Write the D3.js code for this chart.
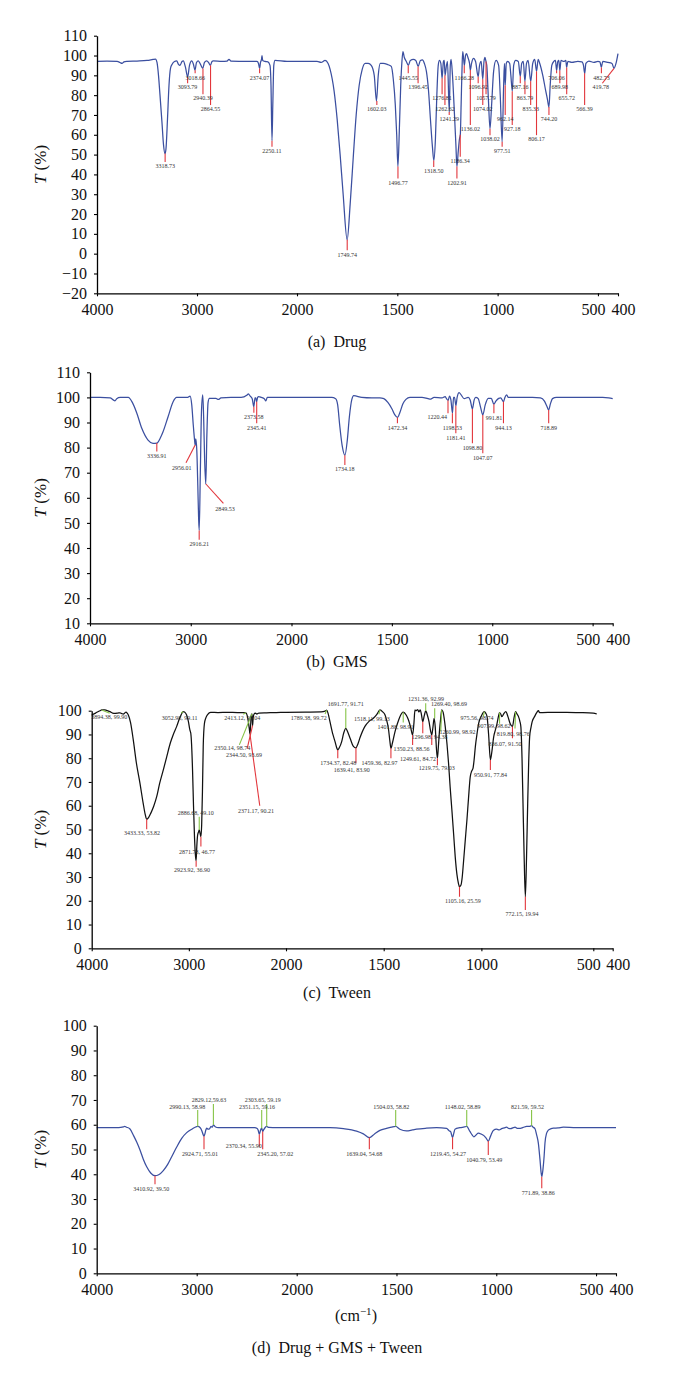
<!DOCTYPE html>
<html><head><meta charset="utf-8">
<script src="https://cdn.jsdelivr.net/npm/d3@7"></script>
<style>body{margin:0;background:#fff}svg{display:block}</style>
</head><body><div id="chart"></div>
<script>
// ---------------- DATA ----------------
const xTickValues = [4000,3000,2000,1500,1000,500,400];
const yTicksDrug = [-20,-10,0,10,20,30,40,50,60,70,80,90,100,110];
const yTicksGMS = [10,20,30,40,50,60,70,80,90,100,110];
const yTicksTween = [0,10,20,30,40,50,60,70,80,90,100];
const yTicksMix = [0,10,20,30,40,50,60,70,80,90,100];
const captions = ["(a)  Drug","(b)  GMS","(c)  Tween","(d)  Drug + GMS + Tween"];
const yAxisTitle = ["T"," (%)"];
const unitTitle = ["(cm","\u22121",")"];

// spectrum (a) Drug : [wavenumber, T%]
const drugSpectrum = [[4000,97],[3900,97.2],[3800,97],[3770,96.5],[3750,96],[3730,96.8],[3700,97],[3600,97.2],[3500,97.5],[3440,98],[3415,98.2],[3400,96.5],[3385,90],[3370,80],[3350,66],[3335,55],[3320,50.5],[3310,53],[3295,68],[3280,85],[3265,93.5],[3250,95.5],[3225,97],[3203,97.3],[3185,95.5],[3170,95],[3150,97],[3137,97.3],[3115,94],[3094,89.2],[3075,95],[3053,97.3],[3035,95.5],[3020,92.6],[3005,96.5],[2987,97.3],[2965,95.5],[2943,93.5],[2925,96.5],[2903,97.3],[2885,96.5],[2866,95],[2850,97],[2837,97.3],[2750,97],[2700,97.2],[2680,98],[2660,97.2],[2500,97],[2400,97],[2385,96],[2374,93.5],[2365,96.5],[2355,98],[2350,100],[2343,97.5],[2320,97],[2290,96.8],[2270,95],[2260,85],[2250,57],[2242,75],[2232,95],[2220,97.5],[2100,97],[2000,97],[1900,97],[1880,96.5],[1860,97.5],[1845,96],[1835,93],[1815,82],[1800,68],[1785,50],[1770,30],[1750,7],[1735,25],[1720,48],[1705,70],[1690,85],[1675,93],[1660,96],[1645,96],[1630,95],[1615,90],[1604,77],[1595,90],[1585,96],[1570,96],[1550,95.5],[1530,94.5],[1520,88],[1510,75],[1503,60],[1497,44],[1490,62],[1483,85],[1477,97],[1472,102],[1465,99],[1455,97],[1445,95],[1435,97.5],[1420,98],[1408,97.5],[1396,94.5],[1385,97.5],[1375,97.8],[1365,96],[1355,92],[1345,83],[1335,68],[1325,54],[1318,47],[1310,58],[1303,80],[1296,95],[1290,97.5],[1283,96],[1277,88.5],[1270,97],[1266,97.5],[1262,90],[1255,95],[1250,97],[1241,71.5],[1236,95],[1232,98],[1225,90],[1215,70],[1208,55],[1203,44],[1196,52],[1190,58],[1186,60],[1182,75],[1177,95],[1174,102],[1170,99],[1166,95],[1160,100],[1155,101],[1148,99],[1140,96],[1136,92.7],[1130,96],[1120,98.5],[1110,97],[1097,89.3],[1090,95],[1082,97],[1074,88],[1068,97],[1063,99],[1058,97],[1054,95],[1046,78],[1038,63],[1030,75],[1020,92],[1008,97.5],[995,95],[987,80],[977.5,56.5],[970,85],[966,96],[962,85],[957,96],[950,97],[940,96],[934,90],[927,82],[920,95],[910,97.5],[897,97],[887,89.5],[880,96],[872,97],[864,87],[856,96],[848,97.5],[835,87],[825,96],[815,98],[806,92],[798,98],[790,96],[775,90],[760,82],[752,78],[744,74],[738,85],[730,95],[720,97],[712,97.5],[706,92.5],[700,97],[695,97.5],[690,92.5],[684,97.5],[670,97],[660,97.5],[656,94],[650,97],[630,96.5],[600,97],[580,96.8],[572,95],[566,91],[560,96],[545,97.2],[520,96.5],[500,97],[490,96.8],[483,94],[476,97],[450,96.5],[430,96],[420,93.5],[410,96],[400,101]];
// peak marks (a): [wavenumber, T at peak, T at end of mark, (end wn), (text wn), (text T)]
const drugPeaks = [[3318.73,50.5,46.3],[3093.79,89.2,86],[3018.66,92.6,91],[2940.39,93.5,80.5],[2864.55,95,75],[2374.07,93.5,91],[2250.11,57,53.9],[1749.74,7,1.7],[1602.03,77,75],[1496.77,44,37.9],[1445.55,95,91],[1396.45,94.5,86],[1318.50,47,43.8],[1276.81,88.5,80.5],[1262.62,90,75],[1241.29,71.5,70],[1202.91,44,37.9],[1186.34,60,48.9],[1166.28,95,91],[1136.02,92.7,64.9],[1096.92,89.3,86],[1074.02,88,75],[1057.79,97,80.5],[1038.02,63,59.8],[977.51,56.5,53.9],[962.14,85,70],[927.18,82,64.9],[887.16,89.5,86],[863.79,87,80.5],[835.33,87,75],[806.17,92,59.8],[744.20,74,70],[706.06,92.5,91],[689.98,92.5,86],[655.72,94,80.5],[566.39,91,75],[482.73,94,91],[419.78,93.5,86,478,486,84.2]];

// spectrum (b) GMS
const gmsSpectrum = [[4000,100],[3900,100],[3800,99.8],[3770,99],[3752,98.6],[3735,99.5],[3700,100],[3620,100],[3580,98],[3536,93.8],[3486,87.7],[3424,83],[3375,81.7],[3337,81.8],[3300,84],[3275,86.3],[3225,92.3],[3175,98.3],[3140,100],[3100,100],[3030,100],[3007,100.5],[2990,97],[2975,89],[2962,83],[2956,81],[2950,83.5],[2940,79],[2930,65],[2922,52],[2916,47],[2905,70],[2893,95],[2881,101],[2872,92],[2862,75],[2851,65.5],[2840,85],[2828,98],[2815,99.6],[2750,99.6],[2726,99.2],[2700,99.8],[2600,100],[2500,100],[2440,101],[2428,101.4],[2410,100.5],[2390,99.5],[2374,96.3],[2362,99.8],[2355,99.8],[2346,98.3],[2336,100],[2326,100.3],[2300,100],[2270,99.5],[2255,98.6],[2240,100],[2100,100],[2000,100],[1900,100],[1800,100],[1780,99.5],[1770,97],[1760,89],[1748,81],[1734,77],[1722,83],[1712,92],[1700,99],[1690,100.7],[1650,100],[1600,99.8],[1560,99.8],[1540,99.5],[1520,98],[1500,95.5],[1485,93],[1472,92],[1460,94],[1445,97.5],[1430,99.2],[1410,100],[1350,100],[1320,99.5],[1307,99.3],[1290,100],[1250,99.8],[1235,100.3],[1228,99.5],[1220,98.8],[1213,100.5],[1206,99],[1198,93.7],[1193,100],[1188,100],[1181,96.7],[1175,100],[1165,101.9],[1155,101],[1140,99.5],[1120,100],[1110,99],[1099,95.4],[1090,99],[1082,100],[1070,99.5],[1058,96],[1047,93],[1035,97],[1020,99.6],[1005,99.6],[992,97.3],[982,98.5],[968,99.6],[958,99.8],[944,98.3],[937,100],[928,101],[920,100],[850,100],[800,100],[760,99.8],[740,98.5],[728,96.5],[719,95],[710,97.5],[700,99.5],[680,100],[600,100],[500,100],[450,100],[420,99.8],[400,99.5]];
const gmsPeaks = [[3336.91,81.8,78.4],[2956.01,81,74,3047,3089,71.7],[2916.21,47,43.3],[2849.53,65.5,57.8,2676,2660,55.4],[2373.58,96.3,93.9],[2345.41,98.3,89.7],[1734.18,77,73.1],[1472.34,92,89.7],[1220.44,98.8,93.7,1220.44,1274,92.3],[1198.53,93.7,89.7],[1181.41,96.7,85.7],[1098.80,95.4,81.7],[1047.07,93,77.7],[991.81,97.3,93.7],[944.13,98.3,89.7],[718.89,95,89.7]];

// spectrum (c) Tween
const tweenSpectrum = [[4000,98.2],[3960,99],[3915,100],[3897,100.3],[3863,100.3],[3840,100],[3812,99.6],[3785,99],[3760,98.9],[3730,99],[3709,99.1],[3690,98.8],[3675,98.6],[3660,99],[3647,99.4],[3635,99],[3623,98.2],[3600,95],[3572,87.7],[3540,78],[3503,69.4],[3470,61],[3450,56.5],[3434,54.3],[3415,55],[3390,57],[3360,60],[3331,63.8],[3300,69.5],[3260,75.5],[3228,80.6],[3190,86.5],[3160,90],[3126,93.3],[3090,97.3],[3057,99.6],[3040,99.3],[3023,98.2],[3005,95.5],[2990,92],[2980,90.5],[2972,86],[2962,75],[2952,60],[2942,47],[2932,39],[2925,36.9],[2918,43],[2910,47.5],[2900,49],[2893,49.8],[2885,48.5],[2876,47],[2868,52],[2860,66],[2852,85],[2840,94.5],[2825,97],[2805,98.5],[2776,99.3],[2700,99.2],[2600,99.3],[2500,99.2],[2440,99.2],[2413,99.1],[2400,98],[2388,95.5],[2378,92.5],[2371,90.2],[2364,94],[2357,98.2],[2350,98.7],[2344,93.7],[2338,97],[2330,98.5],[2315,99],[2300,98.6],[2280,99],[2200,99.1],[2100,99.2],[2000,99.3],[1900,99.4],[1820,99.5],[1800,99.8],[1792,100.2],[1785,99],[1775,95.4],[1760,90],[1749,87],[1740,84.3],[1735,83.5],[1728,84.3],[1715,87],[1705,90.5],[1694,92.6],[1684,91],[1672,88.4],[1655,85],[1642,84.4],[1632,86],[1621,88.7],[1596,93.4],[1575,95.5],[1553,96.8],[1535,98.5],[1519,100.3],[1505,99.5],[1493,98.2],[1485,96],[1476,92.6],[1468,87],[1463,84.2],[1455,86.5],[1442,91.2],[1430,94.5],[1417,97.5],[1400,99.4],[1385,98.2],[1374,96.3],[1362,93],[1352,89.8],[1345,95],[1340,100.3],[1335,100],[1331,100.2],[1326,100.5],[1320,99.5],[1313,100.3],[1307,98.5],[1300,95.4],[1292,98],[1285,99.9],[1276,98],[1268,95.4],[1260,91.5],[1254,89.8],[1248,93],[1242,96.8],[1236,93],[1230,84],[1225,80],[1220,85],[1215,91],[1208,97],[1203,100.3],[1196,99.4],[1190,96.5],[1185,93.3],[1176,86],[1168,77.9],[1160,68],[1151,58.2],[1142,48],[1134,38.6],[1125,31],[1118,27.5],[1112,25.9],[1105,26.5],[1098,30],[1092,35.8],[1083,45],[1074,54],[1066,63],[1057,72.2],[1050,74.5],[1043,75.7],[1037,79.5],[1031,84.8],[1022,90.5],[1014,94.7],[1000,97.8],[985,99.6],[978,99],[971,97.5],[963,90],[954,79.3],[946,83],[937,89],[928,92],[920,94.6],[913,97.5],[907,99.2],[901,98.6],[895,97.5],[885,98.8],[875,99.6],[864,97.5],[853,94.6],[841,93.3],[833,97],[825,99.6],[817,98.5],[810,97.5],[803,95.5],[798,93.3],[792,80],[787,61],[781,38],[775,21.7],[769,38],[763,61],[758,78],[753,89],[746,93],[740,95.4],[728,97.5],[716,99.3],[708,100],[702,99.2],[690,99.2],[650,99.3],[600,99.3],[550,99.2],[500,99],[482,98.6]];
// marks (c): [text, colour, wn, T, end wn, end T, text wn, text T]
const tweenPeaks = [["3894.38, 99.90","g",3897,100.3,3815,98.9,3820,97.2],["3052.98, 99.11","g",3057,99.6,3080,99.0,3096,96.9],["2413.12, 99.04","g",2413,99.1,2440,98.5,2451,96.8],["2350.14, 98.74","g",2350,98.7,2480,85.6,2553,84.2],["2344.50, 93.69","r",2344,93.7,2400,84,2433,81.5],["2371.17, 90.21","r",2371,90.2,2270,60,2310,57.9],["3433.33, 53.82","r",3434,54.3,3434,50.1,3483,48.7],["2886.68, 49.10","g",2893,49.8,2893,55.4,2929,57.1],["2871.78, 46.77","r",2876,47,2876,42.8,2917,40.7],["2923.92, 36.90","r",2925,36.9,2925,34.3,2968,33],["1789.38, 99.72","g",1792,100.2,1800,98.6,1884,96.8],["1691.77, 91.71","g",1694,92.6,1694,101,1694,102.7],["1734.37, 82.48","r",1735,83.5,1735,80,1733,77.9],["1639.41, 83.90","r",1642,84.4,1642,77.9,1663,75],["1518.11, 99.13","g",1519,100.3,1525,98.5,1560,96.3],["1459.36, 82.97","r",1463,84.2,1463,80,1522,77.9],["1401.88, 98.91","g",1400,99.4,1400,95,1440,93.3],["1350.23, 88.56","r",1352,89.8,1352,85.6,1358,83.9],["1296.98, 94.38","r",1300,95.4,1300,90.5,1265,88.8],["1231.36, 92.99","g",1285,99.9,1285,103.1,1283,104.8],["1269.40, 98.69","g",1239,96.8,1239,101,1166,102.7],["1249.61, 84.72","r",1254,89.8,1254,85.6,1325,79.7],["1219.75, 79.03","r",1225,80,1225,77,1228,76],["1260.99, 98.92","g",1203,100.3,1208,91.3,1122,91.2],["1105.16, 25.59","r",1112,25.9,1112,21.7,1095,20],["975.56, 98.74","g",985,99.6,990,97.5,1022,96.8],["907.99, 98.62","g",907,99.2,907,94.5,935,93.7],["950.91, 77.84","r",954,79.3,954,75,953,72.8],["836.07, 91.50","r",841,93.3,841,88.4,879,86],["819.80, 98.76","g",825,99.6,828,92.5,837,90.2],["772.15, 19.94","r",775,21.7,775,16.1,792,14.3]];

// spectrum (d) Drug + GMS + Tween
const mixSpectrum = [[4000,58.8],[3900,58.8],[3800,58.8],[3760,58.9],[3734,59.1],[3720,59.3],[3700,59],[3667,58.3],[3630,55.5],[3600,53],[3567,49.8],[3535,46.2],[3500,43],[3460,40.5],[3417,39.4],[3380,39.8],[3334,41.5],[3290,44],[3250,47.1],[3200,51],[3150,54.5],[3100,56.8],[3050,58.2],[3020,58.9],[2990,59.3],[2965,58.8],[2950,57.7],[2935,56],[2927,55.4],[2918,56.3],[2908,58],[2900,58.6],[2885,58.2],[2873,58.3],[2857,59.3],[2845,59],[2833,59.9],[2815,59.2],[2783,58.8],[2700,58.8],[2600,58.8],[2500,58.8],[2420,58.8],[2395,58.5],[2385,57.8],[2374,56.1],[2362,57.8],[2350,58.6],[2340,57.3],[2330,58],[2315,58.9],[2300,59.3],[2280,58.9],[2200,58.8],[2100,58.8],[2000,58.8],[1900,58.8],[1833,58.8],[1766,58.4],[1700,57.4],[1666,56.3],[1636,54.8],[1610,56.3],[1583,57.7],[1550,58.5],[1525,59],[1504,59.3],[1483,58.2],[1450,57.5],[1420,57.9],[1400,58.2],[1350,58.6],[1299,58.8],[1249,58.5],[1235,57.5],[1229,57.3],[1219,54.8],[1213,56.5],[1207,58.2],[1182,58.8],[1160,59.1],[1148,59.3],[1132,57.3],[1120,55.8],[1112,55.1],[1100,56],[1090,56.6],[1075,56.2],[1062,55.6],[1050,54.5],[1040,53.4],[1028,55.5],[1015,57.7],[998,58.2],[985,57.9],[973,58.4],[960,58.7],[948,59],[938,58.5],[928,58.4],[915,58.8],[906,59],[895,58.5],[885,58.5],[865,58.9],[848,59.3],[835,59.3],[823,59.6],[815,59],[806,58.4],[798,56],[789,52.5],[781,46],[775,40.5],[772,39],[766,42],[760,47.5],[756,52.5],[748,56.5],[739,57.8],[725,58.4],[714,58.6],[690,58.7],[664,59],[600,58.8],[500,58.8],[400,58.8]];
const mixPeaks = [["3410.92, 39.50","r",3417,39.4,3417,36,3454,34.2],["2924.71, 55.01","r",2927,55.4,2927,50.1,2967,48.2],["2370.34, 55.90","r",2374,56.1,2374,51.1,2530,51.4],["2345.20, 57.02","r",2340,57.3,2340,50.1,2214,48.2],["2990.13,  58.98","g",2990,59.3,2990,66,3094,67],["2829.12,59.63","g",2833,59.9,2833,68.4,2877,70],["2351.15, 59.16","g",2350,58.6,2350,66,2397,67],["2303.65, 59.19","g",2300,59.3,2300,68.4,2340,70],["1639.04, 54.68","r",1636,54.8,1636,50.1,1661,48.2],["1504.03, 58.82","g",1504,59.3,1504,66,1526,67],["1219.45, 54.27","r",1219,54.8,1219,50.1,1242,48.2],["1148.02, 58.89","g",1148,59.3,1148,66,1168,67],["1040.79, 53.49","r",1040,53.4,1040,47.8,1060,45.8],["821.59, 59.52","g",823,59.6,823,66,843,67],["771.89, 38.86","r",772,39,772,34.3,789,32.6]];

// ---------------- LAYOUT ----------------
const W = 674, H = 1378;
const SERIF = "'Liberation Serif','Times New Roman',serif";
const BLUE = "#3b4fa0", BLACK = "#111", RED = "#e2363c", GREEN = "#86c447";

const panels = [
  {spec: drugSpectrum, peaks: drugPeaks, simple: true, color: BLUE, yTicks: yTicksDrug, yDom: [-20,110], yRange: [293.3,35.7],
   xDom: [4000,2000,400], xRange: [97,297,618], cap: captions[0], capY: 347, textDrop: 4.2},
  {spec: gmsSpectrum, peaks: gmsPeaks, simple: true, color: BLUE, yTicks: yTicksGMS, yDom: [10,110], yRange: [623.3,372.3],
   xDom: [4000,2000,400], xRange: [90,291.5,612.7], cap: captions[1], capY: 667, textDrop: 4.3},
  {spec: tweenSpectrum, peaks: tweenPeaks, simple: false, color: BLACK, yTicks: yTicksTween, yDom: [0,100], yRange: [948.3,710.7],
   xDom: [4000,2000,700,500,400], xRange: [91.7,286,540,593.3,612.7], cap: captions[2], capY: 998},
  {spec: mixSpectrum, peaks: mixPeaks, simple: false, color: BLUE, yTicks: yTicksMix, yDom: [0,100], yRange: [1273.3,1025.7],
   xDom: [4000,2000,400], xRange: [96.7,296.7,616], cap: captions[3], capY: 1353, unit: true}
];

const svg = d3.select("#chart").append("svg").attr("width", W).attr("height", H)
  .attr("viewBox", `0 0 ${W} ${H}`).style("background", "#fff");

panels.forEach((p) => {
  const x = d3.scaleLinear().domain(p.xDom).range(p.xRange);
  const y = d3.scaleLinear().domain(p.yDom).range(p.yRange);
  const g = svg.append("g");
  const x0 = p.xRange[0], yBot = p.yRange[0], yTop = p.yRange[1];

  // spectrum
  const line = d3.line().x(d => x(d[0])).y(d => y(d[1])).curve(d3.curveMonotoneX);
  g.append("path").datum(p.spec).attr("d", line).attr("fill", "none")
    .attr("stroke", p.color).attr("stroke-width", 1.25).attr("stroke-linejoin", "round");

  // peak marks
  const marks = p.peaks.map(d => {
    if (p.simple) {
      return {text: d[0].toFixed(2), c: "r", wn: d[0], T: d[1], ewn: d[3] != null ? d[3] : d[0], eT: d[2],
              tw: d[4] != null ? d[4] : (d[3] != null ? d[3] : d[0]), tT: d[5]};
    }
    return {text: d[0], c: d[1], wn: d[2], T: d[3], ewn: d[4], eT: d[5], tw: d[6], tT: d[7]};
  });
  g.selectAll("line.mk").data(marks).join("line").attr("class", "mk")
    .attr("x1", d => x(d.wn)).attr("y1", d => y(d.T))
    .attr("x2", d => x(d.ewn)).attr("y2", d => y(d.eT))
    .attr("stroke", d => d.c === "g" ? GREEN : RED).attr("stroke-width", 1.1);
  g.selectAll("text.mk").data(marks).join("text").attr("class", "mk")
    .attr("x", d => x(d.tw))
    .attr("y", d => d.tT != null ? y(d.tT) : y(d.eT) + p.textDrop)
    .attr("text-anchor", "middle").attr("dominant-baseline", "central")
    .attr("font-family", SERIF).attr("font-size", 6).attr("fill", "#333")
    .text(d => d.text);

  // y axis
  const yAxis = g.append("g").attr("transform", `translate(${x0},0)`)
    .call(d3.axisLeft(y).tickValues(p.yTicks).tickSize(3).tickSizeOuter(0).tickPadding(7)
      .tickFormat(v => String(v).replace("-", "\u2212")));
  yAxis.select(".domain").attr("stroke", "#000").attr("stroke-width", 1.3);
  yAxis.selectAll(".tick line").attr("stroke", "#000").attr("stroke-width", 1.1);
  yAxis.selectAll(".tick text").attr("font-family", SERIF).attr("font-size", 16).attr("fill", "#111");

  // x axis
  const xAxis = g.append("g").attr("transform", `translate(0,${yBot})`)
    .call(d3.axisBottom(x).tickValues(xTickValues).tickSize(3).tickSizeOuter(0).tickPadding(7).tickFormat(d3.format("d")));
  xAxis.select(".domain").attr("stroke", "#000").attr("stroke-width", 1.3);
  xAxis.selectAll(".tick line").attr("stroke", "#000").attr("stroke-width", 1.1);
  xAxis.selectAll(".tick text").attr("font-family", SERIF).attr("font-size", 16).attr("fill", "#111")
    .attr("text-anchor", v => v === 500 ? "end" : (v === 400 ? "start" : "middle"))
    .attr("dx", v => v === 500 ? 7 : (v === 400 ? -7 : 0));

  // y axis title
  const yt = g.append("text")
    .attr("transform", `translate(46,${(yBot + yTop) / 2}) rotate(-90)`)
    .attr("text-anchor", "middle").attr("font-family", SERIF).attr("font-size", 17).attr("fill", "#111");
  yt.append("tspan").attr("font-style", "italic").text(yAxisTitle[0]);
  yt.append("tspan").text(yAxisTitle[1]);

  // unit title
  if (p.unit) {
    const ut = g.append("text").attr("x", 356).attr("y", 1321).attr("text-anchor", "middle")
      .attr("font-family", SERIF).attr("font-size", 16).attr("fill", "#111");
    ut.append("tspan").text(unitTitle[0]);
    ut.append("tspan").attr("font-size", 11).attr("dy", -6).text(unitTitle[1]);
    ut.append("tspan").attr("dy", 6).text(unitTitle[2]);
  }

  // caption
  g.append("text").attr("x", 337).attr("y", p.capY).attr("text-anchor", "middle")
    .attr("font-family", SERIF).attr("font-size", 16).attr("fill", "#111")
    .attr("xml:space", "preserve").style("white-space", "pre").text(p.cap);
});
</script>
</body></html>
